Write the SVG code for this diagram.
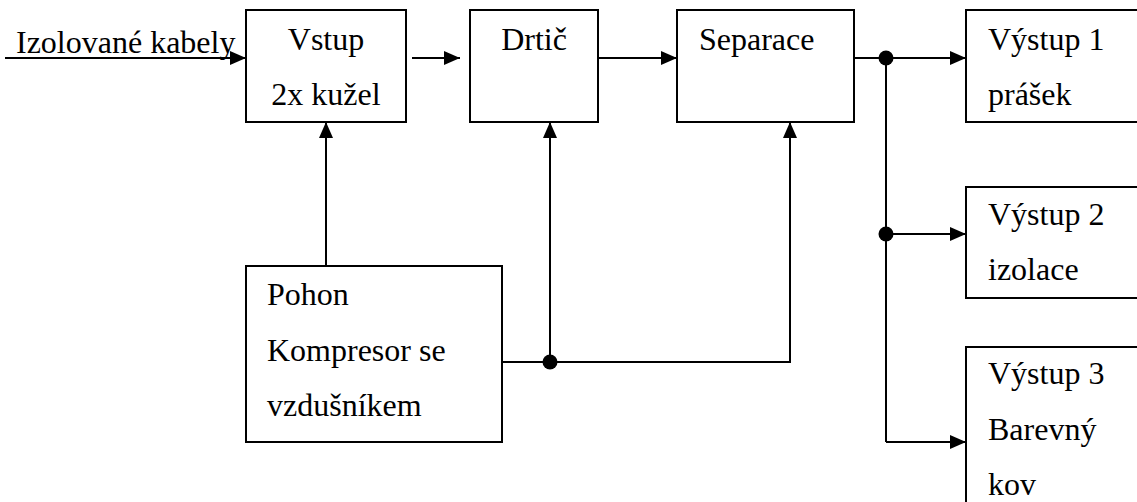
<svg xmlns="http://www.w3.org/2000/svg" width="1137" height="502" viewBox="0 0 1137 502">
<style>
.box{fill:#fff;stroke:#000;stroke-width:2}
.ln{fill:none;stroke:#000;stroke-width:2}
.t{font-size:32px;fill:#000}
.c{text-anchor:middle}
</style>
<defs>
<marker id="arr" markerUnits="userSpaceOnUse" markerWidth="16" markerHeight="14" refX="16" refY="7" orient="auto">
<polygon points="0,0 16,7 0,14" fill="#000"/>
</marker>
</defs>
<rect width="1137" height="502" fill="#fff"/>
<g font-family="Liberation Serif, Times New Roman, serif">
<g id="vstup"><rect class="box" x="246" y="10" width="160" height="112"/><text class="t c" x="326" y="50">Vstup</text><text class="t c" x="326" y="105">2x kužel</text></g>
<g id="drtic"><rect class="box" x="470" y="10" width="128" height="112"/><text class="t c" x="534" y="50">Drtič</text></g>
<g id="separace"><rect class="box" x="677" y="10" width="177" height="112"/><text class="t" x="699" y="50">Separace</text></g>
<g id="vystup1"><rect class="box" x="966" y="10" width="200" height="112"/><text class="t" x="988" y="50">Výstup 1</text><text class="t" x="988" y="105">prášek</text></g>
<g id="vystup2"><rect class="box" x="966" y="187" width="200" height="111"/><text class="t" x="988" y="225">Výstup 2</text><text class="t" x="988" y="280">izolace</text></g>
<g id="vystup3"><rect class="box" x="966" y="347" width="200" height="200"/><text class="t" x="988" y="384">Výstup 3</text><text class="t" x="988" y="440">Barevný</text><text class="t" x="988" y="495">kov</text></g>
<g id="pohon"><rect class="box" x="246" y="266" width="256" height="176"/><text class="t" x="267" y="305">Pohon</text><text class="t" x="267" y="361">Kompresor se</text><text class="t" x="267" y="416">vzdušníkem</text></g>
<g id="connectors">
<line class="ln" x1="5" y1="58" x2="246" y2="58" marker-end="url(#arr)"/>
<text class="t" x="16" y="53">Izolované kabely</text>
<line class="ln" x1="412" y1="58" x2="460" y2="58" marker-end="url(#arr)"/>
<line class="ln" x1="598" y1="58" x2="677" y2="58" marker-end="url(#arr)"/>
<line class="ln" x1="854" y1="58" x2="966" y2="58" marker-end="url(#arr)"/>
<line class="ln" x1="886" y1="58" x2="886" y2="442"/>
<line class="ln" x1="886" y1="234" x2="966" y2="234" marker-end="url(#arr)"/>
<line class="ln" x1="886" y1="442" x2="966" y2="442" marker-end="url(#arr)"/>
<circle cx="886" cy="58" r="7.5" fill="#000"/>
<circle cx="886" cy="234" r="7.5" fill="#000"/>
<line class="ln" x1="326" y1="266" x2="326" y2="122" marker-end="url(#arr)"/>
<line class="ln" x1="550" y1="362" x2="550" y2="122" marker-end="url(#arr)"/>
<polyline class="ln" points="502,362 790,362 790,122" marker-end="url(#arr)"/>
<circle cx="550" cy="362" r="7.5" fill="#000"/>
</g>
</g>
</svg>
